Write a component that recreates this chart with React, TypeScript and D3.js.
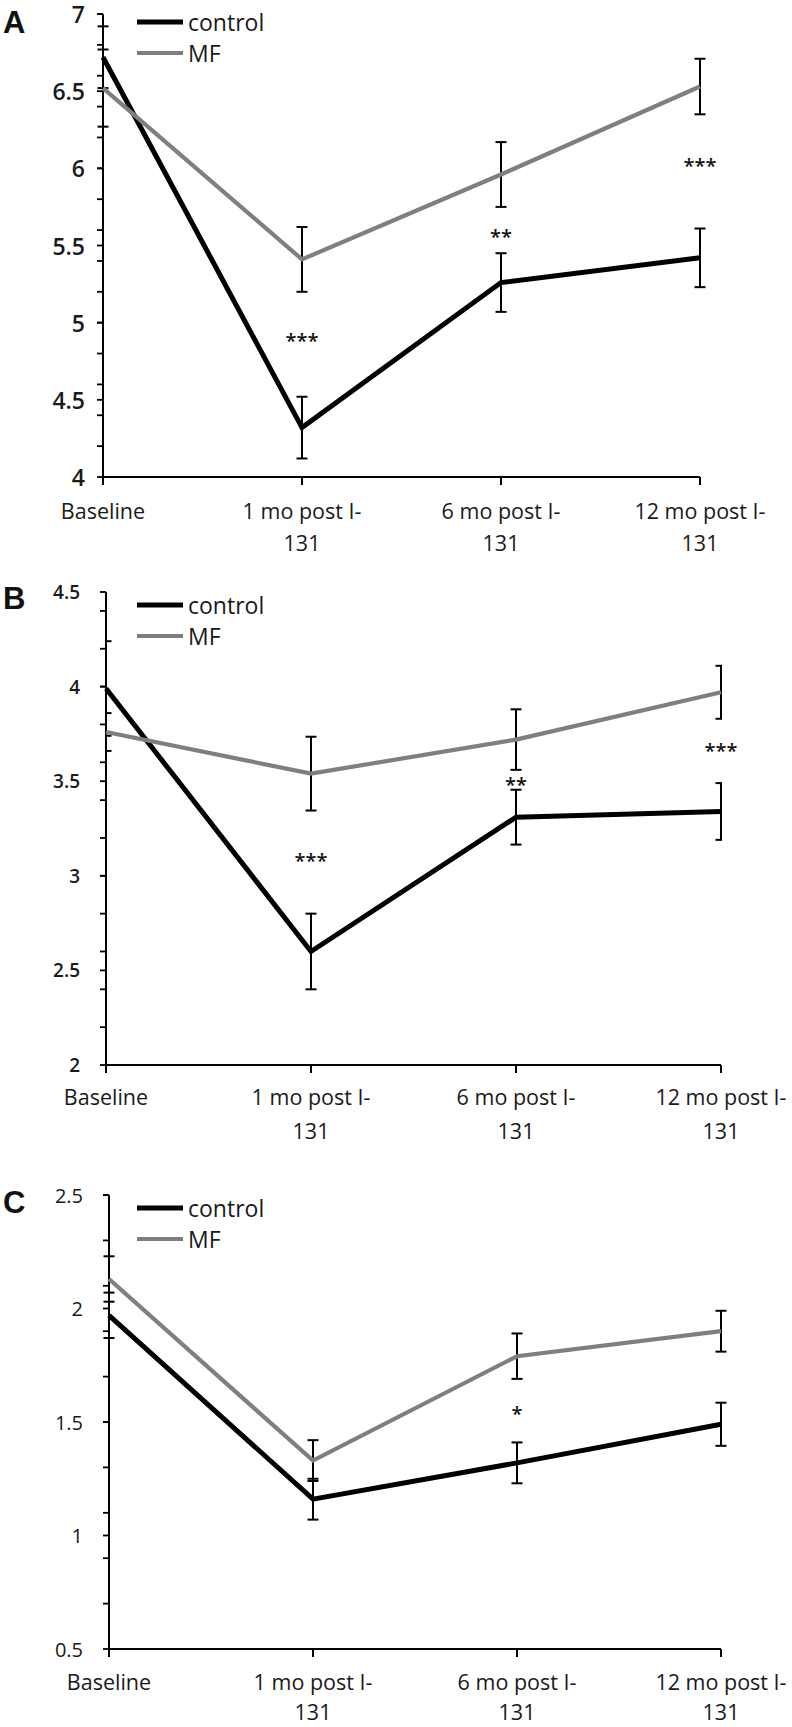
import React from "react";
import * as d3 from "d3";

// ---------- data ----------
const categories: string[][] = [
  ["Baseline"],
  ["1 mo post I-", "131"],
  ["6 mo post I-", "131"],
  ["12 mo post I-", "131"],
];
const seriesNames = ["control", "MF"];

// Panel A
const aControl = [6.72, 4.32, 5.26, 5.42];
const aControlErr = [0.2, 0.2, 0.19, 0.19];
const aMF = [6.52, 5.41, 5.96, 6.53];
const aMFErr = [0.25, 0.21, 0.21, 0.18];
const aSig = ["", "***", "**", "***"];
const aSigAt = [0, 4.91, 5.58, 6.04];
const aMajor = [4, 4.5, 5, 5.5, 6, 6.5, 7];

// Panel B
const bControl = [3.99, 2.6, 3.31, 3.34];
const bControlErr = [0.25, 0.2, 0.145, 0.15];
const bMF = [3.76, 3.54, 3.72, 3.97];
const bMFErr = [0.1, 0.195, 0.16, 0.14];
const bSig = ["", "***", "**", "***"];
const bSigAt = [0, 3.1, 3.5, 3.68];
const bMajor = [2, 2.5, 3, 3.5, 4, 4.5];

// Panel C
const cControl = [1.97, 1.16, 1.32, 1.49];
const cControlErr = [0.1, 0.09, 0.09, 0.095];
const cMF = [2.13, 1.33, 1.79, 1.9];
const cMFErr = [0.1, 0.09, 0.1, 0.09];
const cSig = ["", "", "*", ""];
const cSigAt = [0, 0, 1.553, 0];
const cMajor = [0.5, 1, 1.5, 2, 2.5];

const FONT = "'Open Sans', 'DejaVu Sans', sans-serif";
const GRAY = "#7f7f7f";

type PanelProps = {
  id: string;
  letter: string;
  letterY: number;
  x0: number;
  x1: number;
  yBottom: number;
  yTop: number;
  domain: [number, number];
  major: number[];
  control: number[];
  controlErr: number[];
  mf: number[];
  mfErr: number[];
  sig: string[];
  sigAt: number[];
  legendY: number;
  yFont: number;
  yGap: number;
  yWeight: number;
  clip: boolean;
  xl1: number;
  xl2: number;
};

function Panel(p: PanelProps) {
  const x = d3
    .scalePoint<number>()
    .domain(categories.map((_, i) => i))
    .range([p.x0, p.x1])
    .padding(0);
  const y = d3.scaleLinear().domain(p.domain).range([p.yBottom, p.yTop]);
  const minor: number[] = [];
  for (let v = p.domain[0] + 0.2; v <= p.domain[1] + 1e-6; v += 0.2) minor.push(+v.toFixed(2));
  const line = d3
    .line<number>()
    .x((_, i) => x(i) as number)
    .y((d) => y(d));
  const cap = 5.5;
  const errBars = (vals: number[], errs: number[], key: string) =>
    vals.map((v, i) => {
      const cx = x(i) as number;
      return (
        <g key={key + i} stroke="#000" strokeWidth={2} fill="none">
          <line x1={cx} x2={cx} y1={y(v + errs[i])} y2={y(v - errs[i])} />
          <line x1={cx - cap} x2={cx + cap} y1={y(v + errs[i])} y2={y(v + errs[i])} />
          <line x1={cx - cap} x2={cx + cap} y1={y(v - errs[i])} y2={y(v - errs[i])} />
        </g>
      );
    });
  const clipId = "clip" + p.id;
  return (
    <g>
      <defs>
        <clipPath id={clipId}>
          <rect x={p.x0 - 1} y={p.yTop - 60} width={p.x1 - p.x0 + 2} height={p.yBottom - p.yTop + 120} />
        </clipPath>
      </defs>
      <text x={3} y={p.letterY} fontFamily="'Liberation Sans', Arial, sans-serif" fontWeight="bold" fontSize={31} fill="#111">
        {p.letter}
      </text>
      {/* y axis */}
      <line x1={p.x0} x2={p.x0} y1={y(p.domain[1])} y2={p.yBottom} stroke="#000" strokeWidth={2} />
      {minor.map((v) => (
        <line key={"mn" + v} x1={p.x0 - 6} x2={p.x0} y1={y(v)} y2={y(v)} stroke="#000" strokeWidth={1.8} />
      ))}
      {p.major.map((v) => (
        <g key={"mj" + v}>
          <line x1={p.x0 - 6} x2={p.x0} y1={y(v)} y2={y(v)} stroke="#000" strokeWidth={1.8} />
          <text
            x={p.x0 - p.yGap}
            y={y(v)}
            textAnchor="end"
            dominantBaseline="central"
            fontFamily={FONT}
            fontSize={p.yFont}
            fontWeight={p.yWeight}
            fill="#1a1a1a"
          >
            {String(v)}
          </text>
        </g>
      ))}
      {/* x axis */}
      <line x1={p.x0} x2={p.x1} y1={p.yBottom} y2={p.yBottom} stroke="#000" strokeWidth={2} />
      {categories.map((lines, i) => (
        <g key={"xt" + i}>
          <line x1={x(i)} x2={x(i)} y1={p.yBottom} y2={p.yBottom + 8} stroke="#000" strokeWidth={2} />
          {lines.map((t, j) => (
            <text
              key={j}
              x={x(i) as number}
              y={p.yBottom + (j === 0 ? p.xl1 : p.xl2)}
              textAnchor="middle"
              dominantBaseline="central"
              fontFamily={FONT}
              fontSize={21.5}
              fontWeight={500}
              fill="#1a1a1a"
            >
              {t}
            </text>
          ))}
        </g>
      ))}
      {/* error bars */}
      <g clipPath={p.clip ? `url(#${clipId})` : undefined}>
        {errBars(p.control, p.controlErr, "ce")}
        {errBars(p.mf, p.mfErr, "me")}
      </g>
      {/* lines */}
      <path d={line(p.control) || ""} fill="none" stroke="#000" strokeWidth={5} strokeLinejoin="miter" />
      <path d={line(p.mf) || ""} fill="none" stroke={GRAY} strokeWidth={4.2} strokeLinejoin="miter" />
      {/* significance */}
      {p.sig.map((s, i) =>
        s ? (
          <text
            key={"s" + i}
            x={x(i) as number}
            y={y(p.sigAt[i]) + 11}
            textAnchor="middle"
            fontFamily={FONT}
            fontSize={20}
            fontWeight={600}
            fill="#111"
          >
            {s}
          </text>
        ) : null
      )}
      {/* legend */}
      {seriesNames.map((n, i) => (
        <g key={"lg" + n}>
          <line
            x1={137}
            x2={183}
            y1={p.legendY + i * 31}
            y2={p.legendY + i * 31}
            stroke={i === 0 ? "#000" : GRAY}
            strokeWidth={i === 0 ? 5 : 4.2}
          />
          <text
            x={188}
            y={p.legendY + i * 31}
            dominantBaseline="central"
            fontFamily={FONT}
            fontSize={23}
            fontWeight={500}
            fill="#1a1a1a"
          >
            {n}
          </text>
        </g>
      ))}
    </g>
  );
}

export default function App() {
  return (
    <svg
      width={792}
      height={1727}
      viewBox="0 0 792 1727"
      style={{ position: "absolute", left: 0, top: 0, background: "#fff" }}
    >
      <rect width={792} height={1727} fill="#fff" />
      <Panel
        id="A"
        letter="A"
        letterY={33}
        x0={103}
        x1={700}
        yBottom={477}
        yTop={14}
        domain={[4, 7]}
        major={aMajor}
        control={aControl}
        controlErr={aControlErr}
        mf={aMF}
        mfErr={aMFErr}
        sig={aSig}
        sigAt={aSigAt}
        legendY={22}
        yFont={23}
        yGap={18}
        yWeight={600}
        clip={false}
        xl1={33}
        xl2={65}
      />
      <Panel
        id="B"
        letter="B"
        letterY={609}
        x0={106}
        x1={721}
        yBottom={1065}
        yTop={592}
        domain={[2, 4.5]}
        major={bMajor}
        control={bControl}
        controlErr={bControlErr}
        mf={bMF}
        mfErr={bMFErr}
        sig={bSig}
        sigAt={bSigAt}
        legendY={605}
        yFont={19}
        yGap={26}
        yWeight={600}
        clip={true}
        xl1={31}
        xl2={65}
      />
      <Panel
        id="C"
        letter="C"
        letterY={1213}
        x0={109}
        x1={721}
        yBottom={1649}
        yTop={1195}
        domain={[0.5, 2.5]}
        major={cMajor}
        control={cControl}
        controlErr={cControlErr}
        mf={cMF}
        mfErr={cMFErr}
        sig={cSig}
        sigAt={cSigAt}
        legendY={1208}
        yFont={20}
        yGap={26}
        yWeight={500}
        clip={false}
        xl1={32}
        xl2={62}
      />
    </svg>
  );
}
